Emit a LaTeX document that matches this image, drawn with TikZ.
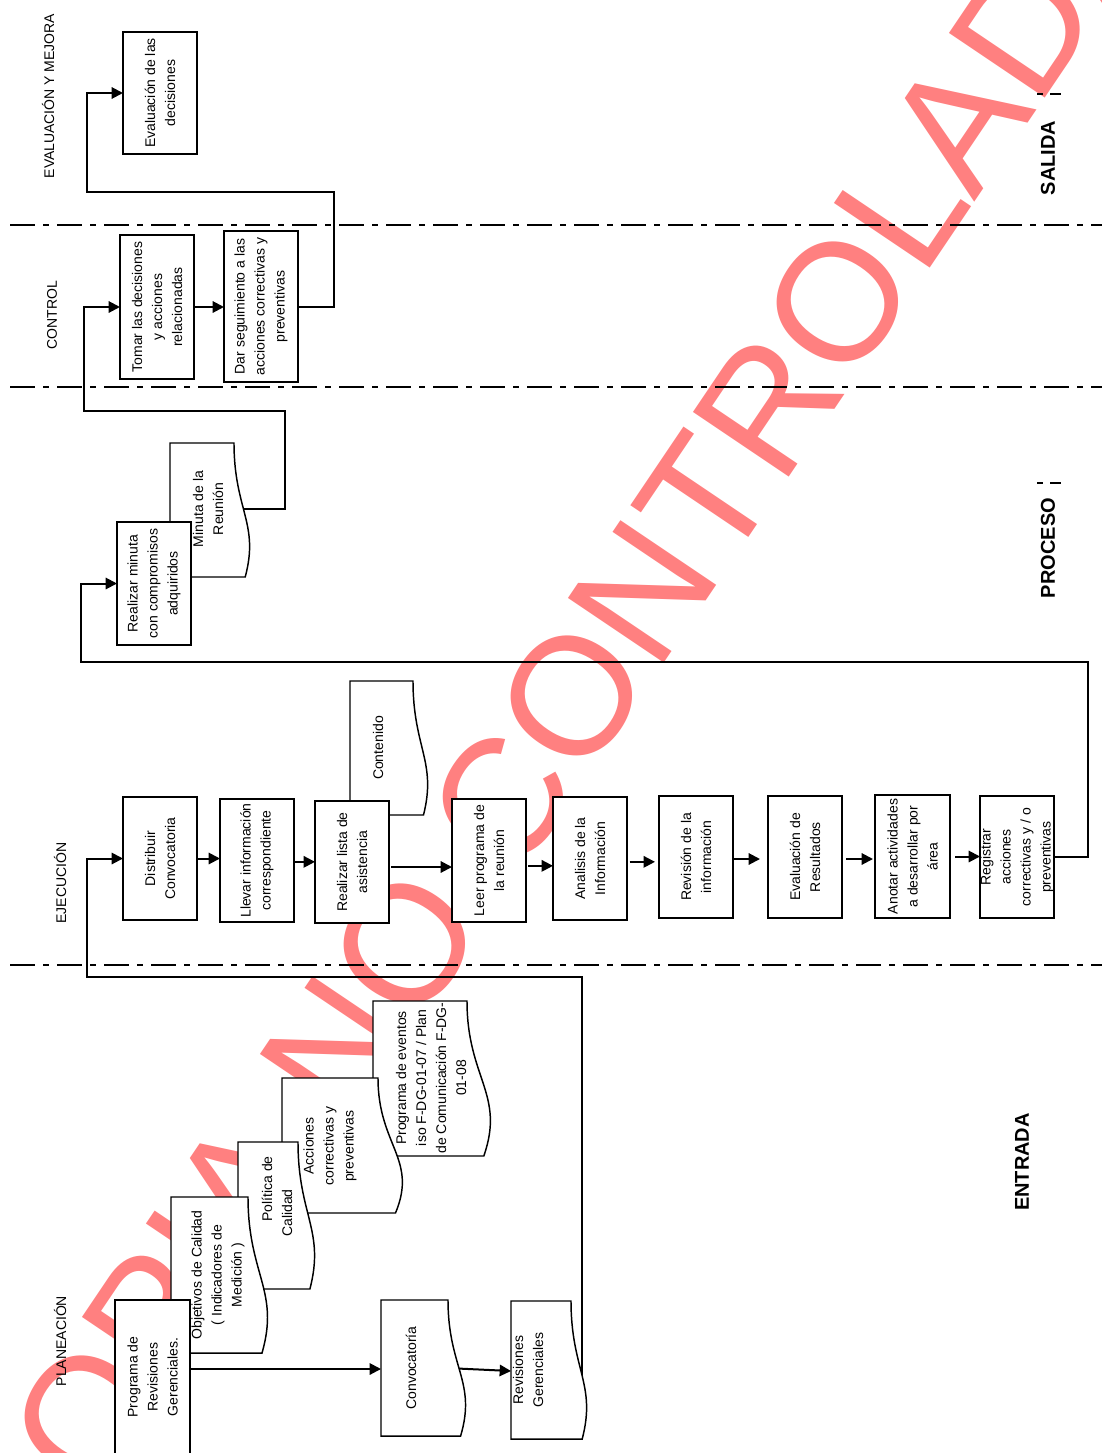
\documentclass[tikz,border=0pt]{standalone}
\usepackage{fontspec}
\setmainfont{Liberation Sans}
\usetikzlibrary{arrows.meta}
\definecolor{wm}{RGB}{255,128,128}
\tikzset{
 boxst/.style={draw, fill=white, line width=1.3pt, inner sep=0pt, outer sep=0pt},
 docst/.style={draw, fill=white, line width=1.1pt, line join=miter},
 txt/.style={rotate=90, align=center, inner sep=0pt, font=\fontsize{10.5}{15}\selectfont},
 lab/.style={rotate=90, inner sep=0pt, font=\fontsize{10.5}{12}\selectfont},
 blab/.style={rotate=90, inner sep=0pt, font=\bfseries\fontsize{15}{18}\selectfont},
 conn/.style={line width=1.5pt},
 arr/.style={conn, -{Triangle[length=8.5pt,width=8.5pt]}},
 sepline/.style={line width=1.5pt, dash pattern=on 18.75pt off 6pt on 4.5pt off 6pt},
 tick/.style={line width=1.5pt},
}
% box: name, x1, y1, x2, y2, text
\newcommand{\mybox}[6]{%
  \node[boxst, minimum width={(#4-#2)*0.75pt}, minimum height={(#5-#3)*0.75pt}] (#1) at ({(#2+#4)/2},{(#3+#5)/2}) {};
  \node[txt] (#1-t) at (#1.center) {#6};}
% document outline: name, xl, yt, xr, yb, amplitude, pos of wave coordinate
\newcommand{\mydoc}[7]{%
  \draw[docst] (#2,#5) -- (#2,#3) -- (#4,#3)
    .. controls (#4,{#3+0.5*(#5-#3)}) and ({#4+1.6*#6},{#3+0.6*(#5-#3)}) .. ({#4+0.7*#6},#5)
    coordinate[pos=#7] (#1-w) -- cycle;}
\begin{document}
\begin{tikzpicture}[x=0.75pt,y=-0.75pt]
\useasboundingbox (0,0) rectangle (1102,1453);
% watermark
\node[rotate=56, text=wm, inner sep=0pt, font=\fontsize{126}{126}\selectfont] (wmk) at (551,727) {COPIA NO CONTROLADA};

% separators
\draw[sepline] (10,225) -- (1102,225);
\draw[sepline] (10,387) -- (1102,387);
\draw[sepline] (10,965) -- (1102,965);
\draw[tick] (1037,94) -- (1043,94) (1050,94) -- (1061,94);
\draw[tick] (1037,483) -- (1043,483) (1050,483) -- (1061,483);

% lane labels
\node[lab] (l-eval) at (48,96) {EVALUACIÓN Y MEJORA};
\node[lab] (l-ctrl) at (52,315) {CONTROL};
\node[lab] (l-ejec) at (60,883) {EJECUCIÓN};
\node[lab] (l-plan) at (60,1341) {PLANEACIÓN};
\node[blab] (l-sal) at (1048,158) {SALIDA};
\node[blab] (l-pro) at (1048,548) {PROCESO};
\node[blab] (l-ent) at (1022,1162) {ENTRADA};

% input documents (back to front)
\mydoc{peve}{373}{1001}{467}{1156}{24}{0.5}
\node[txt] (peve) at (431,1078) {Programa de eventos\\iso F-DG-01-07 / Plan\\de Comunicación F-DG-\\01-08};
\mydoc{acc}{282}{1078}{378}{1213}{25}{0.5}
\node[txt] (acc) at (330,1146) {Acciones\\correctivas y\\preventivas};
\mydoc{pol}{238}{1142}{298}{1289}{17}{0.5}
\node[txt] (pol) at (277,1213) {\hspace*{36pt}Política de\\Calidad};
\mydoc{obj}{171}{1197}{248}{1353}{20}{0.5}
\node[txt] (obj) at (218,1275) {Objetivos de Calidad\\( Indicadores de\\Medición )};
\mybox{prog}{115}{1300}{190}{1454}{Programa de\\Revisiones\\Gerenciales.}

\mydoc{conv}{381}{1300}{448}{1436}{18}{0.46}
\node[txt] (conv) at (411,1368) {Convocatoría};
\coordinate (conv-in) at (381,1369);
\mydoc{revg}{511}{1301}{571}{1439}{16}{0.5}
\node[txt] (revg) at (528,1370) {Revisiones\\Gerenciales};
\coordinate (revg-in) at (511,1371);

% execution
\mydoc{cont}{350}{681}{413}{815}{15}{0.5}
\node[txt] (cont) at (378,748) {Contenido};
\mybox{dist}{123}{797}{197}{920}{Distribuir\\Convocatoria}
\mybox{llev}{220}{799}{294}{922}{Llevar información\\correspondiente}
\mybox{real}{315}{801}{389}{923}{Realizar lista de\\asistencia}
\mybox{leer}{452}{799}{526}{922}{Leer programa de\\la reunión}
\mybox{ana}{553}{797}{627}{920}{Analisis de la\\Información}
\mybox{revi}{659}{796}{733}{918}{Revisión de la\\información}
\mybox{evr}{768}{796}{842}{918}{Evaluación de\\Resultados}
\mybox{anot}{875}{795}{950}{918}{Anotar actividades\\a desarrollar por\\área}
\mybox{reg}{980}{796}{1054}{918}{Registrar\\acciones\\correctivas y / o\\preventivas}

% process
\mydoc{minu}{170}{443}{234}{577}{16}{0.45}
\node[txt] (minu) at (208,509) {Minuta de la\\Reunión};
\mybox{minb}{117}{522}{191}{645}{Realizar minuta\\con compromisos\\adquiridos}

% control
\mybox{tomar}{120}{235}{194}{379}{Tomar las decisiones\\y acciones\\relacionadas}
\mybox{dar}{224}{231}{298}{382}{Dar seguimiento a las\\acciones correctivas y\\preventivas}

% evaluation
\mybox{evd}{123}{32}{197}{154}{Evaluación de las\\decisiones}

% bend points
\coordinate (k1) at (87,977);
\coordinate (k2) at (1088,662);
\coordinate (k3) at (81,662);
\coordinate (k4) at (285,411);
\coordinate (k5) at (84,411);
\coordinate (k6) at (334,192);
\coordinate (k7) at (87,192);

% connectors
\draw[arr] (prog.east |- conv-in) -- (conv-in);
\draw[arr] (conv-w) -- (revg-in);
\draw[arr] (revg-w) |- (k1) |- (dist.west);
\draw[arr] (dist.east) -- (dist.east -| llev.west);
\draw[arr] ([yshift=-1pt]llev.east) -- ([yshift=-1pt]llev.east -| real.west);
\draw[arr] ([xshift=1.5pt,yshift=-3.75pt]real.east) -- ([yshift=-3.75pt]real.east -| leer.west);
\draw[arr] ([xshift=1.5pt,yshift=-4pt]leer.east) -- ([yshift=-4pt]leer.east -| ana.west);
\draw[arr, shorten <=2pt, shorten >=3pt] ([yshift=-2.5pt]ana.east) -- ([yshift=-2.5pt]ana.east -| revi.west);
\draw[arr, shorten >=6pt] ([yshift=-1.5pt]revi.east) -- ([yshift=-1.5pt]revi.east -| evr.west);
\draw[arr, shorten <=3pt, shorten >=1.5pt] ([yshift=-1.5pt]evr.east) -- ([yshift=-1.5pt]evr.east -| anot.west);
\draw[arr, shorten <=4pt] (anot.east) -- (anot.east -| reg.west);
\draw[arr] (reg.east) -| (k2) -- (k3) |- (minb.west);
\draw[arr] (minu-w) -| (k4) -- (k5) |- (tomar.west);
\draw[arr] (tomar.east) -- (tomar.east -| dar.west);
\draw[arr] (dar.east) -| (k6) -- (k7) |- (evd.west);
\end{tikzpicture}
\end{document}
